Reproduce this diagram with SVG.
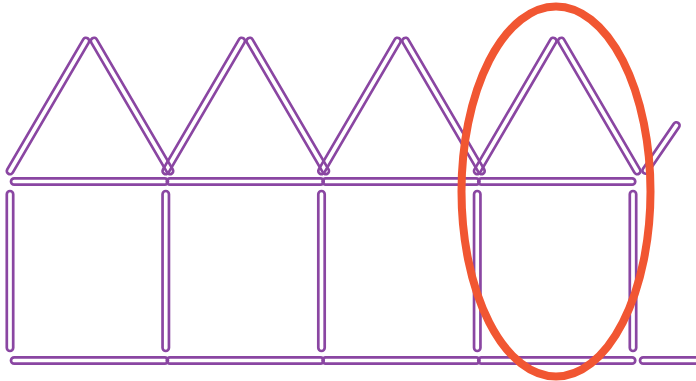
<svg xmlns="http://www.w3.org/2000/svg" width="696" height="381" viewBox="0 0 696 381">
  <defs>
    <style>
      .m { fill: none; stroke: #8A46A2; stroke-width: 2.7; }
      .hl { fill: none; stroke: #F15632; stroke-width: 8; }
    </style>
    <rect id="stick" class="m" x="-78.5" y="-3.2" width="157" height="6.4" rx="3.2"/>
    <rect id="vstick" class="m" x="-80" y="-3.2" width="160" height="6.4" rx="3.2"/>
  </defs>
  <rect width="696" height="381" fill="#ffffff"/>
  <g id="unit1">
    <use href="#stick" transform="translate(48,106) rotate(-59.7)"/>
    <use href="#stick" transform="translate(132,106) rotate(59.7)"/>
    <use href="#stick" transform="translate(89.5,181.5)"/>
    <use href="#vstick" transform="translate(10,271) rotate(90)"/>
    <use href="#stick" transform="translate(89.5,360.5)"/>
  </g>
  <g id="unit2">
    <use href="#stick" transform="translate(203.75,106) rotate(-59.7)"/>
    <use href="#stick" transform="translate(287.75,106) rotate(59.7)"/>
    <use href="#stick" transform="translate(245.25,181.5)"/>
    <use href="#vstick" transform="translate(165.75,271) rotate(90)"/>
    <use href="#stick" transform="translate(245.25,360.5)"/>
  </g>
  <g id="unit3">
    <use href="#stick" transform="translate(359.5,106) rotate(-59.7)"/>
    <use href="#stick" transform="translate(443.5,106) rotate(59.7)"/>
    <use href="#stick" transform="translate(401,181.5)"/>
    <use href="#vstick" transform="translate(321.5,271) rotate(90)"/>
    <use href="#stick" transform="translate(401,360.5)"/>
  </g>
  <g id="unit4">
    <use href="#stick" transform="translate(515.25,106) rotate(-59.7)"/>
    <use href="#stick" transform="translate(599.25,106) rotate(59.7)"/>
    <use href="#stick" transform="translate(556.75,181.5)"/>
    <use href="#vstick" transform="translate(477.25,271) rotate(90)"/>
    <use href="#vstick" transform="translate(633,271) rotate(90)"/>
    <use href="#stick" transform="translate(556.75,360.5)"/>
  </g>
  <g id="unit5-partial">
    <rect class="m" x="-30.5" y="-3.2" width="61" height="6.4" rx="3.2" transform="translate(661,148) rotate(-55.7)"/>
    <use href="#stick" transform="translate(718.5,360.5)"/>
  </g>
  <g id="highlight">
    <ellipse class="hl" cx="556" cy="191.5" rx="94.5" ry="185"/>
  </g>
</svg>
